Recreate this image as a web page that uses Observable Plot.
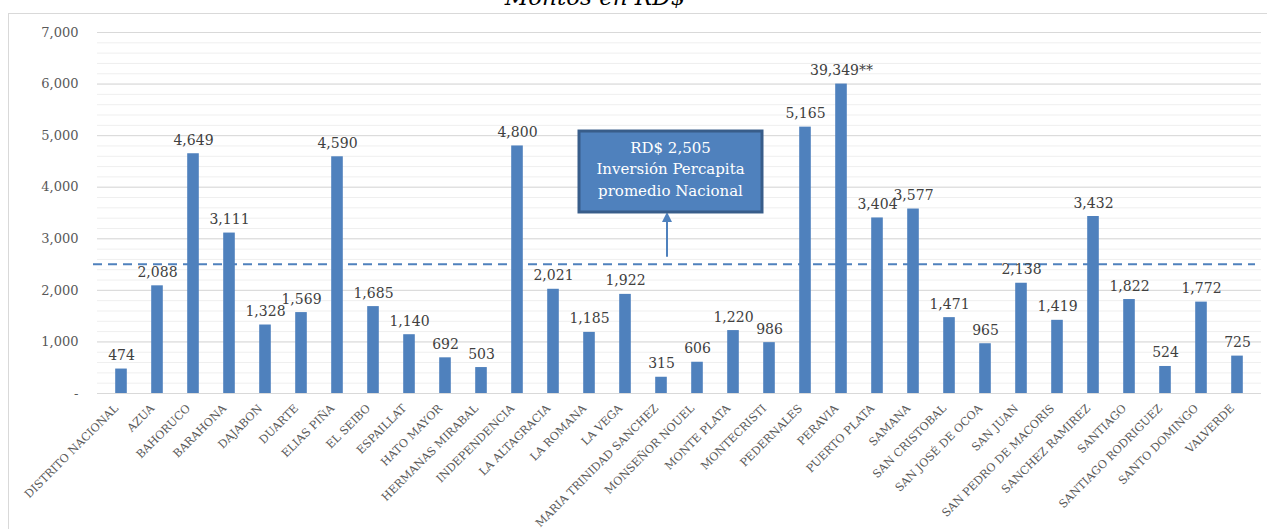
<!DOCTYPE html>
<html>
<head>
<meta charset="utf-8">
<script src="https://cdn.jsdelivr.net/npm/d3@7"></script>
<script src="https://cdn.jsdelivr.net/npm/@observablehq/plot@0.6"></script>
<style>
  html, body { margin: 0; padding: 0; background: #fff; overflow: hidden; }
  #wrap { position: relative; width: 1267px; height: 529px; overflow: hidden; }
  #frame { position: absolute; left: 8px; top: 13px; right: 0; bottom: 0;
           border-left: 1px solid #d9d9d9; border-top: 1px solid #d9d9d9; }
  #title { position: absolute; left: 0; width: 1190px; top: -14.5px; text-align: center;
           font-family: "DejaVu Serif", serif; font-style: italic; font-size: 23px; line-height: 23px; color: #000; }
  #chart { position: absolute; left: 0; top: 0; }
</style>
</head>
<body>
<div id="wrap">
  <div id="frame"></div>
  <div id="title">Montos en RD$</div>
  <div id="chart"></div>
</div>
<script>
// ---- data ----
const provinces = [
  "DISTRITO NACIONAL", "AZUA", "BAHORUCO", "BARAHONA", "DAJABON", "DUARTE",
  "ELIAS PIÑA", "EL SEIBO", "ESPAILLAT", "HATO MAYOR", "HERMANAS MIRABAL",
  "INDEPENDENCIA", "LA ALTAGRACIA", "LA ROMANA", "LA VEGA", "MARIA TRINIDAD SANCHEZ",
  "MONSEÑOR NOUEL", "MONTE PLATA", "MONTECRISTI", "PEDERNALES", "PERAVIA",
  "PUERTO PLATA", "SAMANA", "SAN CRISTOBAL", "SAN JOSÉ DE OCOA", "SAN JUAN",
  "SAN PEDRO DE MACORIS", "SANCHEZ RAMIREZ", "SANTIAGO", "SANTIAGO RODRIGUEZ",
  "SANTO DOMINGO", "VALVERDE"
];
const investment = [
  474, 2088, 4649, 3111, 1328, 1569,
  4590, 1685, 1140, 692, 503,
  4800, 2021, 1185, 1922, 315,
  606, 1220, 986, 5165, 39349,
  3404, 3577, 1471, 965, 2138,
  1419, 3432, 1822, 524,
  1772, 725
];
const barCap = 6000;            // bars above this are truncated (marked **)
const nationalAverage = 2505;
const yTicks = [0, 1000, 2000, 3000, 4000, 5000, 6000, 7000];
const minorStep = 200;
const boxLines = ["RD$ 2,505", "Inversión Percapita", "promedio Nacional"];
const boxAnchor = "MARIA TRINIDAD SANCHEZ";
const boxTop = 5080, boxBottom = 3510, arrowBase = 2640;

const table = provinces.map((p, i) => ({
  province: p,
  value: investment[i],
  shown: Math.min(investment[i], barCap),
  label: d3.format(",")(investment[i]) + (investment[i] > barCap ? "**" : "")
}));
const minorTicks = d3.range(0, 7000 + 1, minorStep);

const blue = "#4f81bd";

function annotation(index, scales) {
  const x = scales.x;
  const y = scales.y;
  const cx = x(boxAnchor) + (x.bandwidth ? x.bandwidth() / 2 : 0);
  const g = d3.create("svg:g");
  const ax = cx + 6;
  const y0 = y(arrowBase), y1 = y(boxBottom);
  g.append("line").attr("x1", ax).attr("x2", ax).attr("y1", y0).attr("y2", y1 + 8)
    .attr("stroke", blue).attr("stroke-width", 2);
  g.append("path").attr("d", `M${ax},${y1} L${ax - 5},${y1 + 10} L${ax + 5},${y1 + 10} Z`).attr("fill", blue);
  const left = cx - 82, right = cx + 101;
  const top = y(boxTop), bottom = y(boxBottom);
  g.append("rect").attr("x", left).attr("y", top).attr("width", right - left).attr("height", bottom - top)
    .attr("fill", blue).attr("stroke", "#385d8a").attr("stroke-width", 3);
  const mid = (left + right) / 2;
  boxLines.forEach((t, i) => {
    g.append("text").attr("x", mid).attr("y", top + 22 + i * 21.3)
      .attr("text-anchor", "middle").attr("fill", "#ffffff")
      .attr("font-family", "DejaVu Serif").attr("font-size", 15).text(t);
  });
  return g.node();
}

const chart = Plot.plot({
  width: 1267,
  height: 529,
  marginTop: 32,
  marginBottom: 136,
  marginLeft: 97,
  marginRight: 6,
  style: { fontFamily: "DejaVu Serif", background: "transparent", overflow: "visible" },
  x: { domain: provinces, padding: 0, label: null },
  y: { domain: [0, 7000], label: null },
  marks: [
    Plot.ruleY(minorTicks, { stroke: "#efefef", strokeWidth: 1 }),
    Plot.ruleY(yTicks, { stroke: "#d9d9d9", strokeWidth: 1 }),
    Plot.axisY({ ticks: yTicks, tickSize: 0, tickPadding: 19, fontSize: 13, color: "#595959",
                 tickFormat: d => d === 0 ? "-" : d3.format(",")(d), label: null }),
    Plot.axisX({ tickSize: 0, tickRotate: -45, tickPadding: 13, dx: -5, fontSize: 11.2, color: "#595959", label: null }),
    Plot.ruleY([nationalAverage], { stroke: blue, strokeWidth: 2, strokeDasharray: "9,6", insetLeft: -4, insetRight: 6 }),
    Plot.barY(table, { x: "province", y: "shown", fill: blue, insetLeft: 12.2, insetRight: 12.2 }),
    Plot.text(table, { x: "province", y: "shown", text: "label", dy: -9, lineAnchor: "bottom",
                       fontSize: 14, fill: "#404040" }),
    annotation
  ]
});
document.getElementById("chart").appendChild(chart);
</script>
</body>
</html>
